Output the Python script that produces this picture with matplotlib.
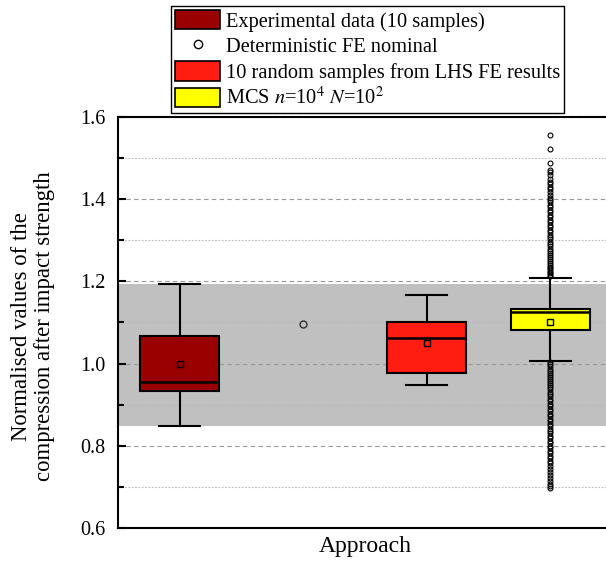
import matplotlib
matplotlib.use('Agg')
import matplotlib.pyplot as plt
from matplotlib.patches import Patch
from matplotlib.lines import Line2D
from matplotlib.ticker import MultipleLocator

plt.rcParams['font.family'] = ['Liberation Serif', 'DejaVu Serif']
plt.rcParams['mathtext.fontset'] = 'stix'

# box statistics
labels = ['Experimental data (10 samples)', '10 random samples from LHS FE results',
          r'MCS $\mathit{n}$=10$^{4}$ $\mathit{N}$=10$^{2}$']
positions = [1, 3, 4]
q1 = [0.934, 0.976, 1.081]
q3 = [1.066, 1.100, 1.132]
medians = [0.956, 1.062, 1.125]
means = [1.000, 1.050, 1.102]
whis_lo = [0.847, 0.947, 1.006]
whis_hi = [1.193, 1.167, 1.209]
colors = ['#990000', '#ff1c10', '#ffff00']

# MCS outliers
mcs_upper = [1.555, 1.522, 1.488, 1.472, 1.465, 1.458, 1.450, 1.443, 1.436, 1.430,
             1.424, 1.417, 1.410, 1.404, 1.398, 1.392, 1.386, 1.380, 1.374, 1.368,
             1.362, 1.356, 1.350, 1.344, 1.338, 1.332, 1.326, 1.320, 1.314, 1.308,
             1.302, 1.296, 1.290, 1.285, 1.280, 1.275, 1.270, 1.265, 1.260, 1.255,
             1.250, 1.245, 1.240, 1.236, 1.232, 1.228, 1.224, 1.220, 1.216, 1.213]
mcs_lower = [1.003, 0.998, 0.993, 0.988, 0.983, 0.978, 0.973, 0.968, 0.963, 0.958,
             0.953, 0.948, 0.943, 0.938, 0.932, 0.926, 0.920, 0.914, 0.908, 0.902,
             0.896, 0.890, 0.884, 0.878, 0.872, 0.866, 0.860, 0.854, 0.848, 0.842,
             0.836, 0.830, 0.824, 0.818, 0.812, 0.806, 0.800, 0.794, 0.788, 0.782,
             0.776, 0.770, 0.764, 0.757, 0.750, 0.743, 0.736, 0.729, 0.722, 0.715,
             0.708, 0.702, 0.697]

# deterministic FE nominal
det_pos = 2
det_value = 1.096

# experimental range band
band_lo = 0.847
band_hi = 1.194

fig = plt.figure(figsize=(6.06, 5.61), dpi=100, facecolor='w')
ax = fig.add_axes([118 / 606, 1 - 528 / 561, 494 / 606, 411 / 561])

ax.axhspan(band_lo, band_hi, color='#c0c0c0', zorder=0, lw=0)

stats = []
for i in range(3):
    fl = []
    if i == 2:
        fl = mcs_upper + mcs_lower
    stats.append({'med': medians[i], 'q1': q1[i], 'q3': q3[i], 'mean': means[i],
                  'whislo': whis_lo[i], 'whishi': whis_hi[i], 'fliers': fl})

bp = ax.bxp(stats, positions=positions, widths=0.64, capwidths=0.33,
            showmeans=True, patch_artist=True,
            boxprops=dict(linewidth=1.5, edgecolor='k'),
            medianprops=dict(color='k', linewidth=1.8),
            whiskerprops=dict(color='k', linewidth=1.5),
            capprops=dict(color='k', linewidth=1.5),
            meanprops=dict(marker='s', markerfacecolor='none', markeredgecolor='k',
                           markersize=4.5, markeredgewidth=1.0),
            flierprops=dict(marker='o', markerfacecolor='none', markeredgecolor='k',
                            markersize=3.5, markeredgewidth=0.8))
for patch, c in zip(bp['boxes'], colors):
    patch.set_facecolor(c)
for k in bp:
    for art in bp[k]:
        art.set_zorder(3)

ax.plot([det_pos], [det_value], 'o', mfc='none', mec='#333333', ms=5, mew=1.0, zorder=3)

ax.set_xlim(0.5, 4.5)
ax.set_ylim(0.6, 1.6)
ax.yaxis.set_major_locator(MultipleLocator(0.2))
ax.yaxis.set_minor_locator(MultipleLocator(0.1))
ax.set_xticks([])
ax.grid(which='major', axis='y', color='#999999', linestyle=(0, (4, 3)), linewidth=0.8, zorder=1)
ax.grid(which='minor', axis='y', color='#bbbbbb', linestyle=(0, (1.5, 1.5)), linewidth=0.8, zorder=1)
ax.set_axisbelow(True)
ax.tick_params(axis='y', which='major', direction='in', length=6, width=1.5,
               labelsize=14.5, pad=9)
ax.tick_params(axis='y', which='minor', direction='in', length=4, width=1.5)
for s in ax.spines.values():
    s.set_linewidth(1.5)

ax.set_xlabel('Approach', fontsize=17, labelpad=6)
ax.set_ylabel('Normalised values of the\ncompression after impact strength', fontsize=16.4,
              linespacing=1.1)
ax.yaxis.set_label_coords(-0.128, 0.49)

handles = [Patch(facecolor=colors[0], edgecolor='k', lw=1.2),
           Line2D([], [], marker='o', ls='none', mfc='none', mec='k', ms=6, mew=1.0),
           Patch(facecolor=colors[1], edgecolor='k', lw=1.2),
           Patch(facecolor=colors[2], edgecolor='k', lw=1.2)]
leg_labels = [labels[0], 'Deterministic FE nominal', labels[1], labels[2]]
leg = fig.legend(handles, leg_labels, loc='upper left',
                 bbox_to_anchor=(171 / 606, 1 - 6 / 561), fontsize=14.7,
                 frameon=True, fancybox=False, framealpha=1, edgecolor='k',
                 handlelength=2.2, handleheight=1.08, handletextpad=0.3,
                 labelspacing=0.2, borderpad=0.2, borderaxespad=0)
leg.get_frame().set_linewidth(1.0)

plt.savefig('out.png', dpi=100)
